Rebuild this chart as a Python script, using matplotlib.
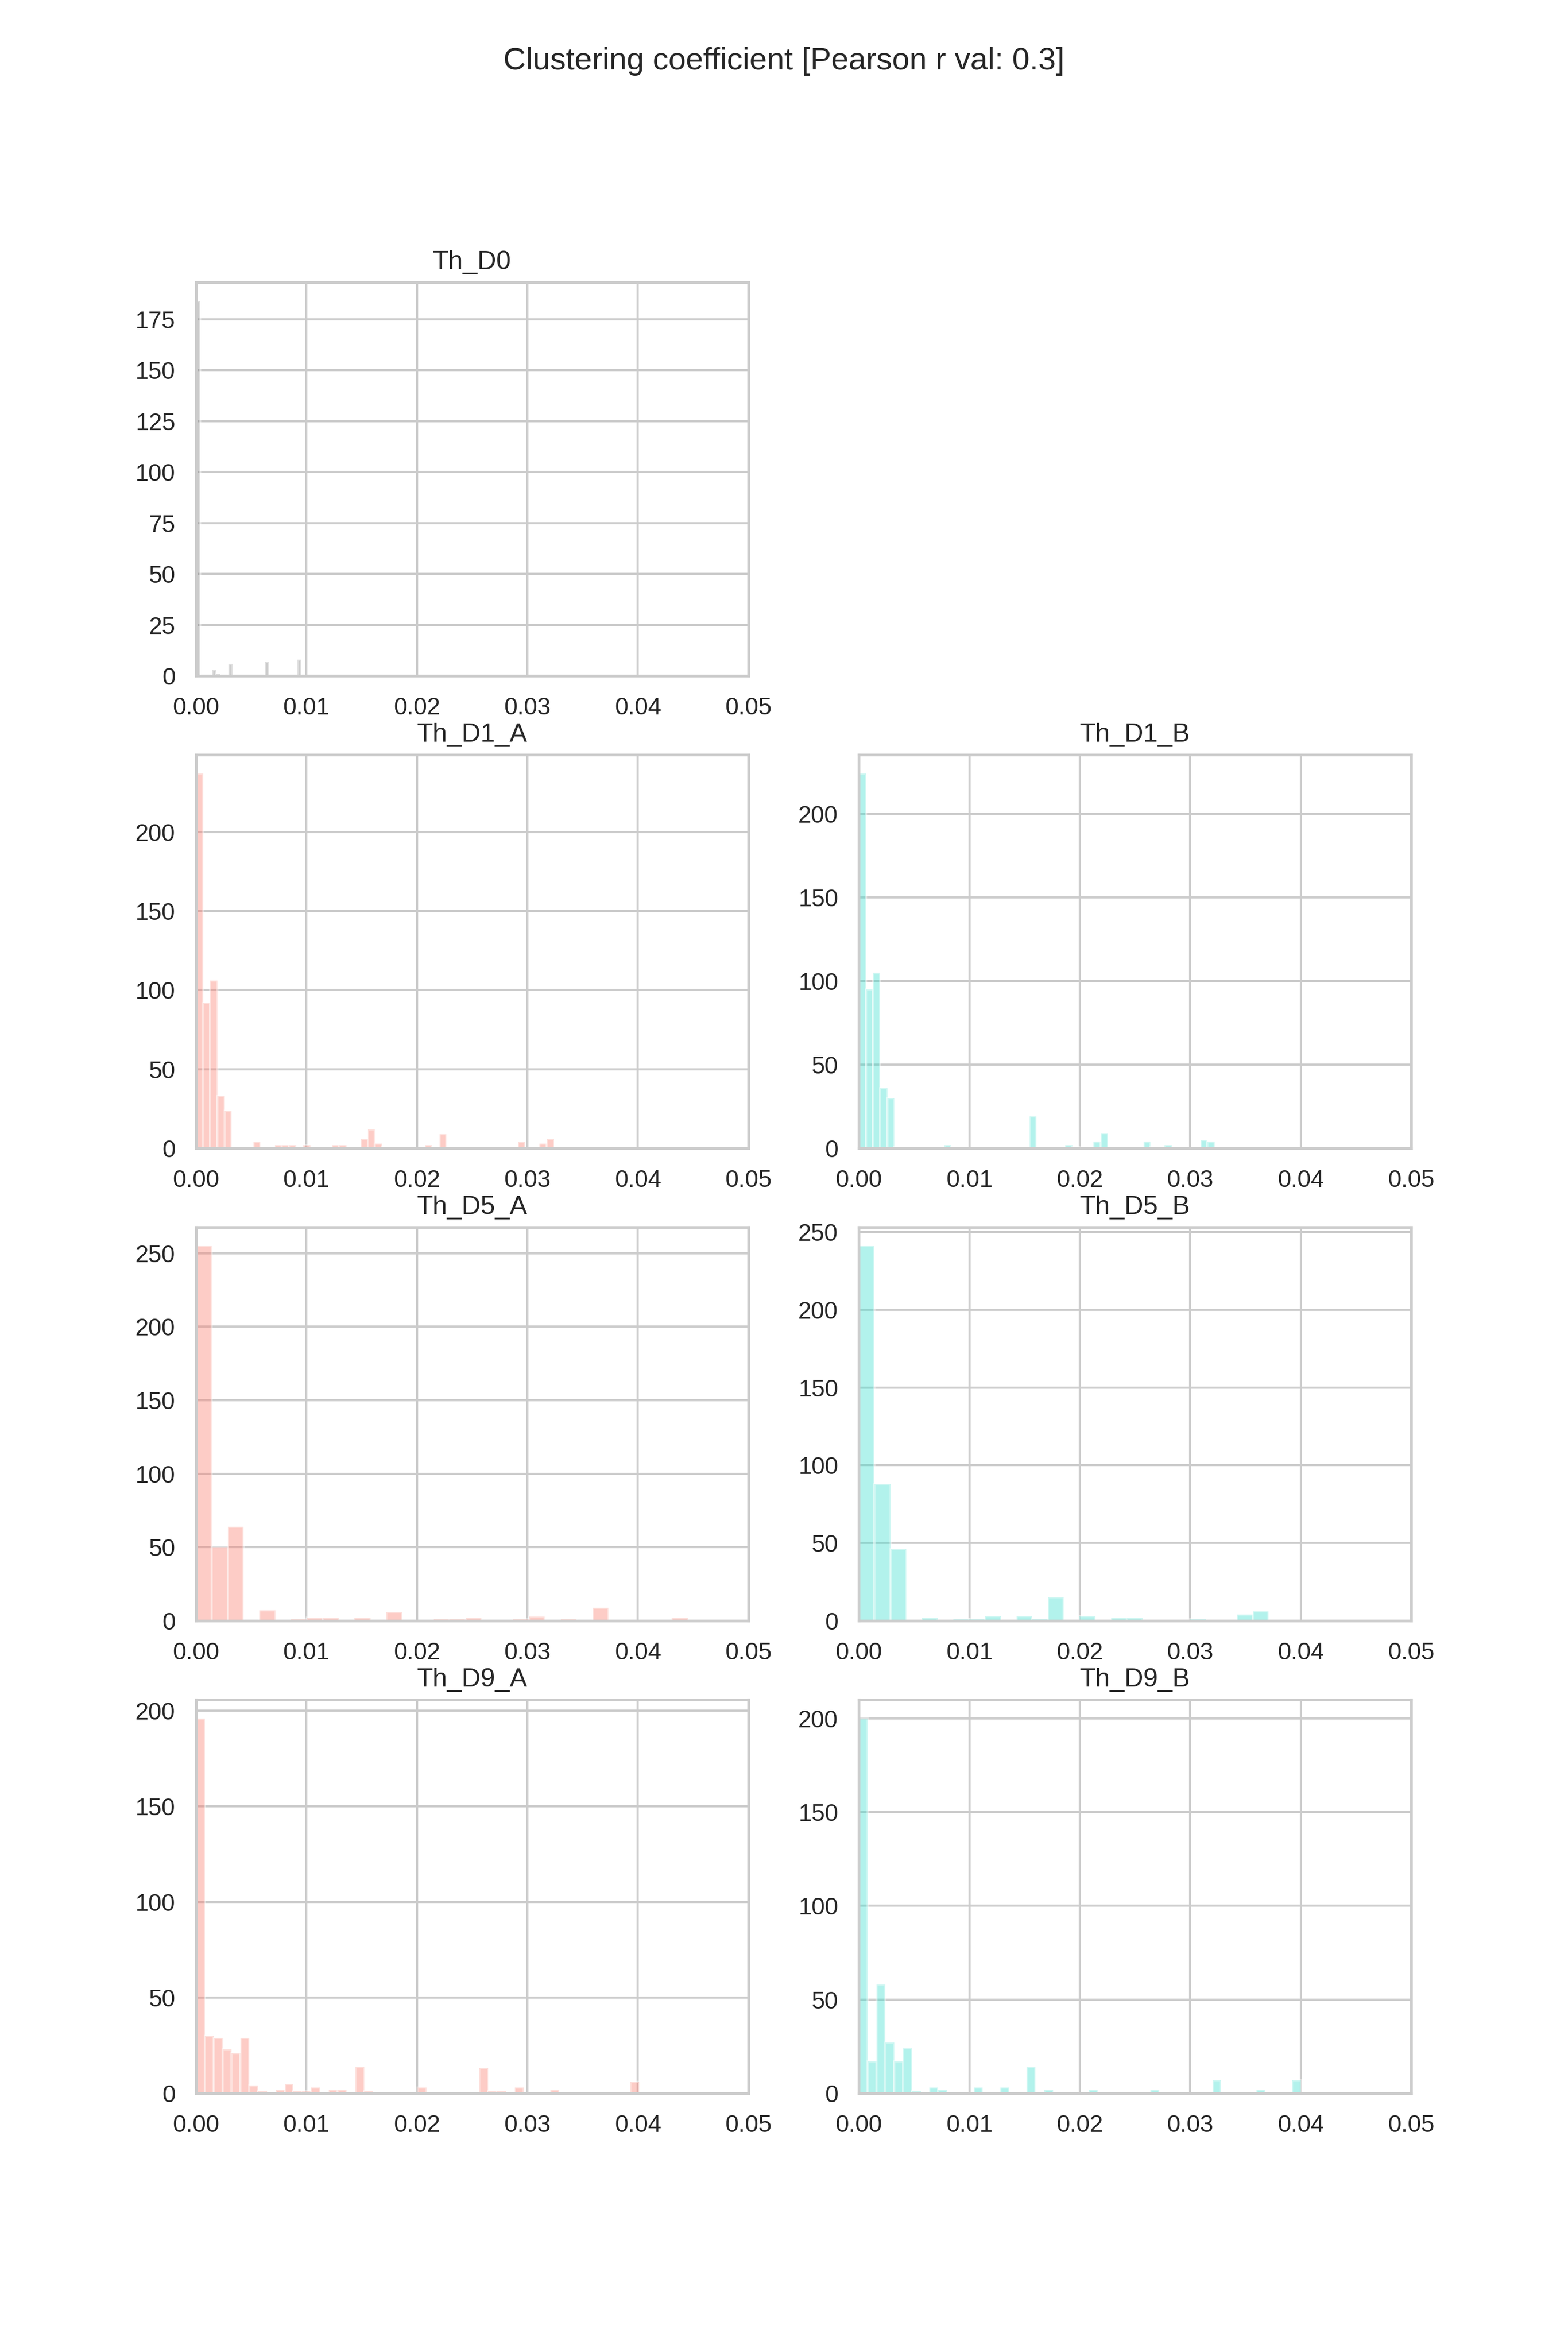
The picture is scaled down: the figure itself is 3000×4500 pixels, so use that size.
import numpy as np
import matplotlib
matplotlib.use("Agg")
import matplotlib.pyplot as plt
import seaborn as sns

sns.set_theme(style="whitegrid")
plt.rcParams['font.family'] = ['Liberation Sans', 'DejaVu Sans']

# histogram counts per bin (bins span 0 .. max value)
d0_max = 0.00953
d0_counts = [184, 0, 0, 0, 3, 1, 0, 0, 6, 0, 0, 0, 0, 0, 0, 0, 0, 7, 0, 0,
             0, 0, 0, 0, 0, 8]

d1a_max = 0.0324
d1a_counts = [237, 92, 106, 33, 24, 0, 1, 0, 4, 0, 0, 2, 2, 2, 1, 2, 0, 0, 0, 2,
              2, 0, 0, 6, 12, 3, 1, 0, 0, 0, 0, 0, 2, 1, 9, 0, 0, 0, 0, 0,
              0, 1, 0, 0, 0, 4, 0, 0, 3, 6]

d1b_max = 0.0322
d1b_counts = [224, 95, 105, 36, 30, 1, 1, 0, 1, 0, 0, 0, 2, 1, 0, 0, 1, 1, 1, 0,
              1, 0, 0, 1, 19, 0, 0, 0, 0, 2, 1, 0, 1, 4, 9, 0, 0, 0, 0, 0,
              4, 1, 0, 2, 0, 0, 0, 0, 5, 4]

d5a_max = 0.0445
d5a_counts = [255, 50, 64, 0, 7, 0, 1, 2, 2, 0, 2, 0, 6, 0, 0, 1, 1, 2, 0, 0,
              1, 3, 0, 1, 0, 9, 0, 0, 0, 0, 2]

d5b_max = 0.0371
d5b_counts = [241, 88, 46, 0, 2, 0, 1, 1, 3, 0, 3, 1, 15, 0, 3, 0, 2, 2, 0, 0,
              0, 1, 0, 0, 4, 6]

d9a_max = 0.0401
d9a_counts = [196, 30, 29, 23, 21, 29, 4, 1, 0, 2, 5, 1, 1, 3, 0, 2, 2, 0, 14, 1,
              0, 0, 0, 0, 0, 3, 0, 0, 0, 0, 0, 0, 13, 1, 1, 0, 3, 0, 0, 0,
              2, 0, 0, 0, 0, 0, 0, 0, 0, 6]

d9b_max = 0.0400
d9b_counts = [200, 17, 58, 27, 17, 24, 1, 0, 3, 2, 0, 0, 0, 3, 0, 0, 3, 0, 0, 14,
              0, 2, 0, 0, 0, 0, 2, 0, 0, 0, 0, 0, 0, 2, 0, 0, 0, 0, 0, 0,
              7, 0, 0, 0, 0, 2, 0, 0, 0, 7]

panels = [
    (0, 0, 'Th_D0', d0_counts, d0_max, 'grey'),
    (1, 0, 'Th_D1_A', d1a_counts, d1a_max, 'salmon'),
    (1, 1, 'Th_D1_B', d1b_counts, d1b_max, 'turquoise'),
    (2, 0, 'Th_D5_A', d5a_counts, d5a_max, 'salmon'),
    (2, 1, 'Th_D5_B', d5b_counts, d5b_max, 'turquoise'),
    (3, 0, 'Th_D9_A', d9a_counts, d9a_max, 'salmon'),
    (3, 1, 'Th_D9_B', d9b_counts, d9b_max, 'turquoise'),
]

fig, axes = plt.subplots(4, 2, figsize=(10, 15))
axes[0, 1].axis('off')

for r, c, name, counts, vmax, color in panels:
    ax = axes[r, c]
    edges = np.linspace(0, vmax, len(counts) + 1)
    ax.hist(edges[:-1], bins=edges, weights=counts, color=color, alpha=0.4,
            edgecolor='white', linewidth=1)
    ax.set_xlim(0, 0.05)
    ax.set_title(name)

fig.suptitle('Clustering coefficient [Pearson r val: 0.3]')
fig.savefig('out.png', dpi=300)
